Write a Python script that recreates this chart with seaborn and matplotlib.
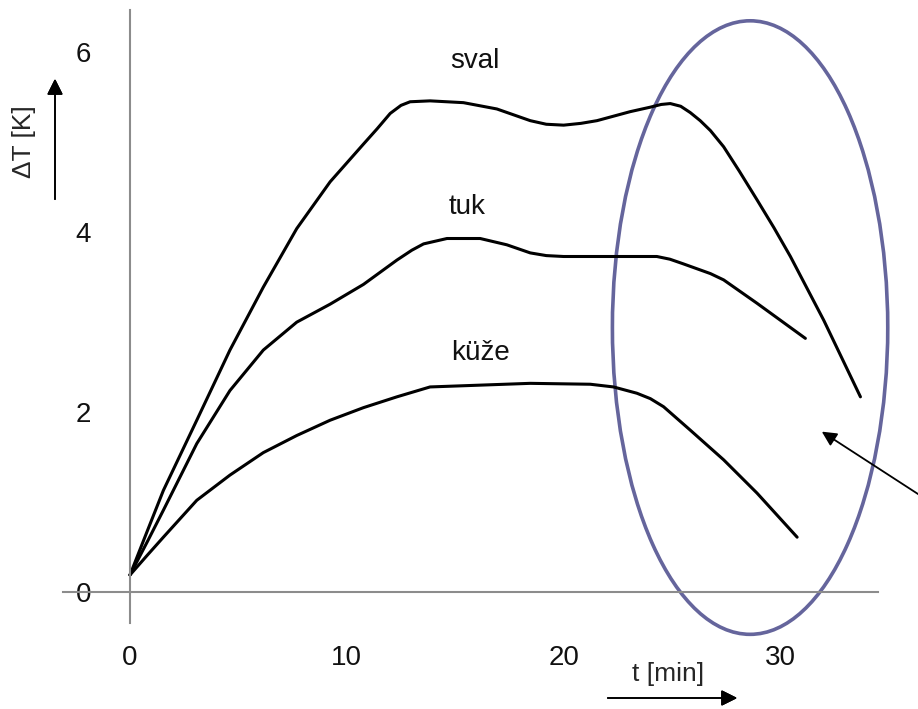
# Temperature rise in tissue layers (sval / tuk / kuze) over time
import numpy as np
import pandas as pd
import matplotlib.pyplot as plt
import seaborn as sns
from matplotlib.patches import Ellipse

# values
t_sval = [0, 0.8, 1.54, 3.08, 4.61, 6.15, 7.69, 9.23, 10.77, 11.4, 12.0, 12.5, 12.92, 13.84,
          15.38, 16.92, 18.46, 19.2, 20.0, 20.8, 21.54, 23.07, 24.0, 24.5, 24.92, 25.4,
          25.84, 26.3, 26.77, 27.38, 28.1, 28.92, 29.7, 30.46, 32.0, 33.69]
dT_sval = [0.19, 0.68, 1.13, 1.91, 2.69, 3.39, 4.04, 4.56, 4.98, 5.15, 5.32, 5.41, 5.45, 5.46,
           5.44, 5.37, 5.24, 5.2, 5.19, 5.21, 5.24, 5.34, 5.39, 5.42, 5.43, 5.4,
           5.33, 5.24, 5.13, 4.95, 4.68, 4.36, 4.05, 3.73, 3.02, 2.17]

t_tuk = [0, 0.8, 1.54, 3.08, 4.61, 6.15, 7.69, 9.23, 10.77, 12.31, 13.0, 13.54, 14.62, 16.15,
         17.38, 18.46, 19.2, 20.0, 22.3, 24.3, 24.9, 25.5, 26.77, 27.38, 28.92, 31.15]
dT_tuk = [0.19, 0.56, 0.91, 1.65, 2.24, 2.69, 3.0, 3.2, 3.42, 3.69, 3.8, 3.87, 3.93, 3.93,
          3.86, 3.77, 3.74, 3.73, 3.73, 3.73, 3.7, 3.65, 3.54, 3.47, 3.21, 2.82]

t_kuze = [0, 0.8, 1.54, 3.08, 4.61, 6.15, 7.69, 9.23, 10.77, 12.31, 13.84, 16.15, 18.46, 21.23,
          22.3, 23.38, 24.0, 24.61, 25.84, 27.38, 28.92, 30.77]
dT_kuze = [0.19, 0.41, 0.61, 1.02, 1.30, 1.55, 1.74, 1.91, 2.05, 2.17, 2.28, 2.30, 2.32, 2.31,
           2.28, 2.21, 2.15, 2.06, 1.80, 1.47, 1.10, 0.61]

labels = ["sval", "tuk", "küže"]
label_pos = [(15.92, 5.9), (15.55, 4.28), (16.15, 2.66)]

df = pd.concat([
    pd.DataFrame({"t": t_sval, "dT": dT_sval, "layer": "sval"}),
    pd.DataFrame({"t": t_tuk, "dT": dT_tuk, "layer": "tuk"}),
    pd.DataFrame({"t": t_kuze, "dT": dT_kuze, "layer": "küže"}),
])

sns.set_style("white")
plt.rcParams['font.family'] = ['Liberation Sans', 'DejaVu Sans']

fig = plt.figure(figsize=(9.18, 7.09), dpi=100)
ax = fig.add_axes([63/918, 86/709, 815/918, 613/709])

sns.lineplot(data=df, x="t", y="dT", hue="layer", palette=["black"] * 3,
             linewidth=2.2, legend=False, sort=False, ax=ax)
for line in ax.lines:
    line.set_solid_joinstyle("round")

ax.set_xlim(-3.09, 34.5)
ax.set_ylim(-0.344, 6.47)

# axes through the origin
for side in ["top", "right"]:
    ax.spines[side].set_visible(False)
ax.spines["left"].set_position(("data", 0))
ax.spines["bottom"].set_position(("data", 0))
for side in ["left", "bottom"]:
    ax.spines[side].set_color("#8c8c8c")
    ax.spines[side].set_linewidth(1.5)

ax.set_xticks([0, 10, 20, 30])
ax.set_yticks([0, 2, 4, 6])
ax.tick_params(axis="x", direction="out", length=18, width=1.2, color="#555555",
               labelsize=20, pad=20, labelcolor="#111111")
ax.tick_params(axis="y", direction="out", length=11, width=1.2, color="#555555",
               labelsize=20, pad=17, labelcolor="#111111")
ax.set_xlabel("")
ax.set_ylabel("")

for name, (x, y) in zip(labels, label_pos):
    ax.text(x, y, name, ha="center", va="center", fontsize=20, color="#111111")

# highlighted region
ax.add_patch(Ellipse((28.6, 2.94), 12.7, 6.82, fill=False, edgecolor="#65659c",
                     linewidth=2.6, clip_on=False))
ax.annotate("", xy=(31.8, 1.8), xytext=(36.6, 1.05),
            arrowprops=dict(arrowstyle="-|>", color="black", lw=1.3, mutation_scale=22),
            annotation_clip=False)

# axis titles with arrows
fig.text(24/918, 1 - 142/709, "ΔT [K]", rotation=90, ha="center", va="center", fontsize=19)
fig.add_artist(plt.annotate("", xy=(55/918, 1 - 76/709), xytext=(55/918, 1 - 202/709),
                            xycoords="figure fraction", textcoords="figure fraction",
                            arrowprops=dict(arrowstyle="-|>", color="black", lw=1.2,
                                            mutation_scale=24)))
fig.text(668/918, 1 - 674/709, "t [min]", ha="center", va="center", fontsize=19)
fig.add_artist(plt.annotate("", xy=(740/918, 1 - 698/709), xytext=(605/918, 1 - 698/709),
                            xycoords="figure fraction", textcoords="figure fraction",
                            arrowprops=dict(arrowstyle="-|>", color="black", lw=1.2,
                                            mutation_scale=24)))

fig.savefig("out.png", dpi=100)
